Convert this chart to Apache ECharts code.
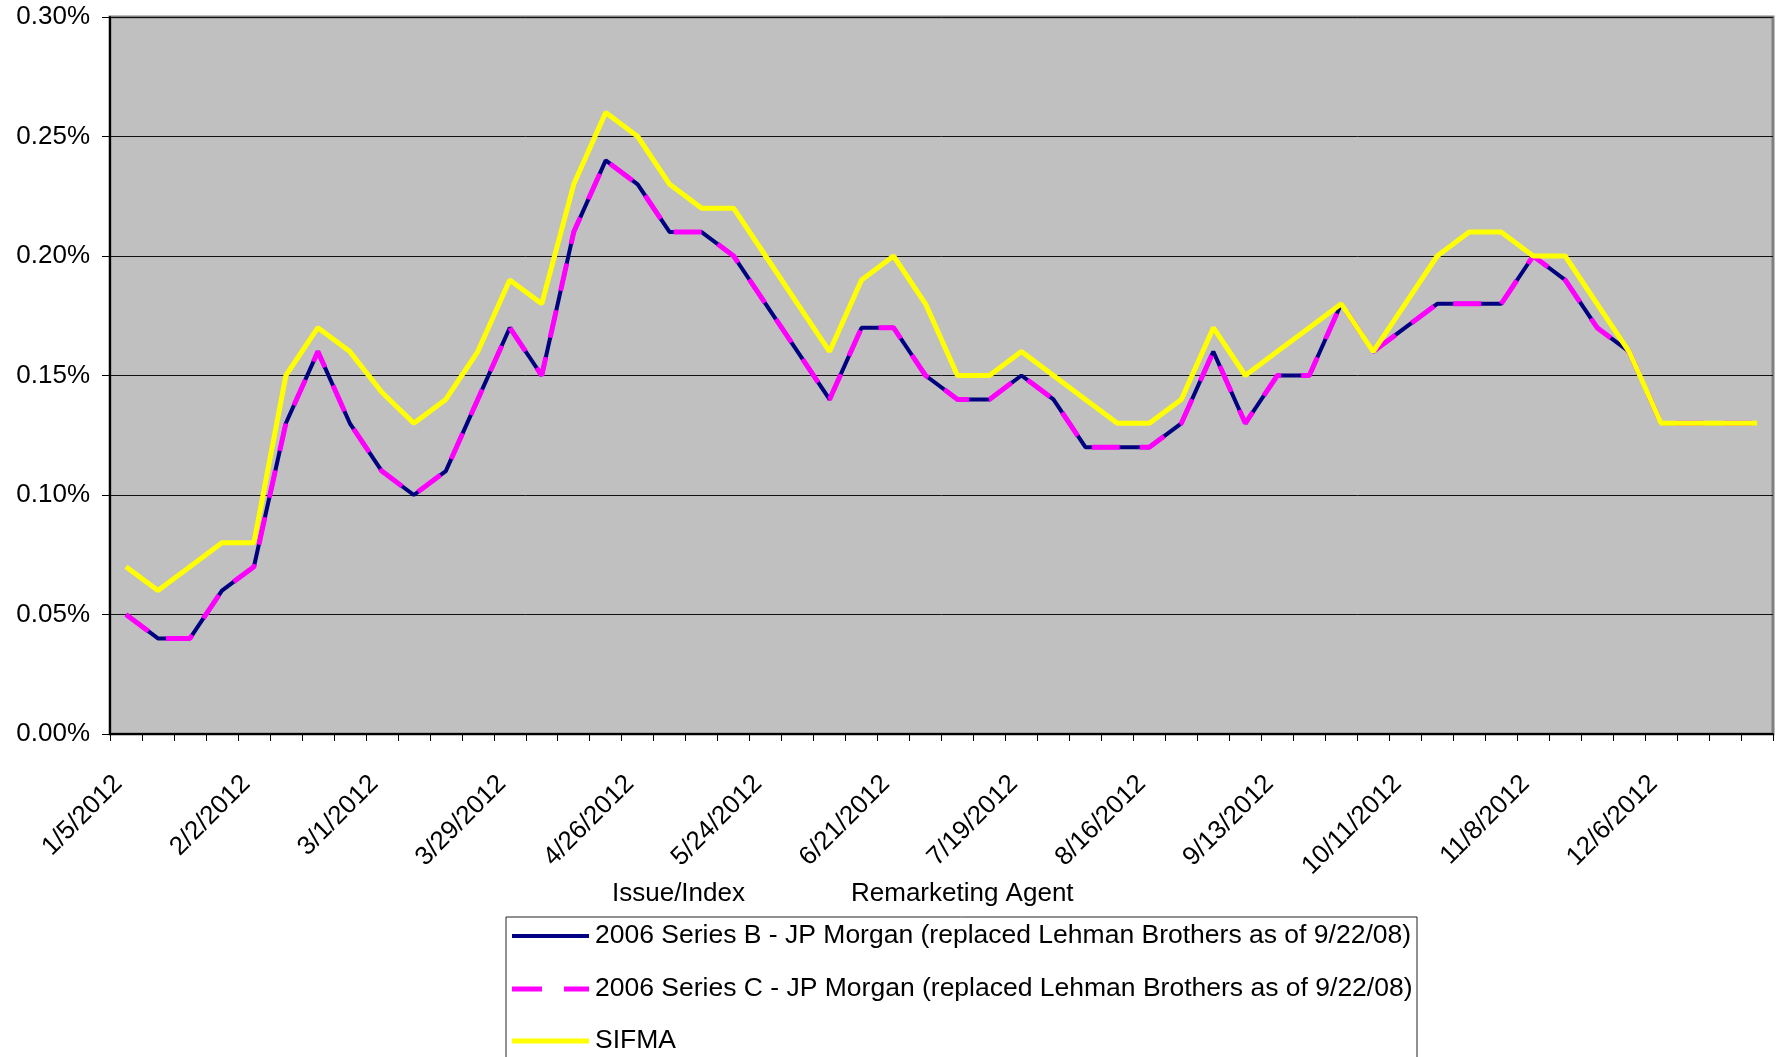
<!DOCTYPE html>
<html>
<head>
<meta charset="utf-8">
<script src="https://cdn.jsdelivr.net/npm/echarts@6/dist/echarts.min.js"></script>
<style>
html,body{margin:0;padding:0;background:#fff;}
#c{width:1776px;height:1057px;}
</style>
</head>
<body>
<div id="c"></div>
<script>
const categories = [
 '1/5/2012','1/12/2012','1/19/2012','1/26/2012','2/2/2012','2/9/2012','2/16/2012','2/23/2012',
 '3/1/2012','3/8/2012','3/15/2012','3/22/2012','3/29/2012','4/5/2012','4/12/2012','4/19/2012',
 '4/26/2012','5/3/2012','5/10/2012','5/17/2012','5/24/2012','5/31/2012','6/7/2012','6/14/2012',
 '6/21/2012','6/28/2012','7/5/2012','7/12/2012','7/19/2012','7/26/2012','8/2/2012','8/9/2012',
 '8/16/2012','8/23/2012','8/30/2012','9/6/2012','9/13/2012','9/20/2012','9/27/2012','10/4/2012',
 '10/11/2012','10/18/2012','10/25/2012','11/1/2012','11/8/2012','11/15/2012','11/22/2012','11/29/2012',
 '12/6/2012','12/13/2012','12/20/2012','12/27/2012'
];
const seriesB = [
 0.05,0.04,0.04,0.06,0.07,0.13,0.16,0.13,
 0.11,0.10,0.11,0.14,0.17,0.15,0.21,0.24,
 0.23,0.21,0.21,0.20,0.18,0.16,0.14,0.17,
 0.17,0.15,0.14,0.14,0.15,0.14,0.12,0.12,
 0.12,0.13,0.16,0.13,0.15,0.15,0.18,0.16,
 0.17,0.18,0.18,0.18,0.20,0.19,0.17,0.16,
 0.13,0.13,0.13,0.13
];
const seriesC = [
 0.05,0.04,0.04,0.06,0.07,0.13,0.16,0.13,
 0.11,0.10,0.11,0.14,0.17,0.15,0.21,0.24,
 0.23,0.21,0.21,0.20,0.18,0.16,0.14,0.17,
 0.17,0.15,0.14,0.14,0.15,0.14,0.12,0.12,
 0.12,0.13,0.16,0.13,0.15,0.15,0.18,0.16,
 0.17,0.18,0.18,0.18,0.20,0.19,0.17,0.16,
 0.13,0.13,0.13,0.13
];
const sifma = [
 0.07,0.06,0.07,0.08,0.08,0.15,0.17,0.16,
 0.143,0.13,0.14,0.16,0.19,0.18,0.23,0.26,
 0.25,0.23,0.22,0.22,0.20,0.18,0.16,0.19,
 0.20,0.18,0.15,0.15,0.16,0.15,0.14,0.13,
 0.13,0.14,0.17,0.15,0.16,0.17,0.18,0.16,
 0.18,0.20,0.21,0.21,0.20,0.20,0.18,0.16,
 0.13,0.13,0.13,0.13
];
const names = [
 '2006 Series B - JP Morgan (replaced Lehman Brothers as of 9/22/08)',
 '2006 Series C - JP Morgan (replaced Lehman Brothers as of 9/22/08)',
 'SIFMA'
];
const headers = ['Issue/Index', 'Remarketing Agent'];

const FONT = "'Liberation Sans', Arial, sans-serif";
const colors = ['#000080', '#FF00FF', '#FFFF00'];

// legend drawn as graphic (box partly outside the picture, as in the reference)
const legendLeft = 506, legendTop = 917, rowY = [936, 989, 1041];
const legendGraphic = [
  {type: 'rect', shape: {x: legendLeft, y: legendTop, width: 911, height: 200},
   style: {fill: '#fff', stroke: '#222', lineWidth: 1}, z: 10}
];
names.forEach((n, i) => {
  legendGraphic.push({type: 'line', shape: {x1: 512, y1: rowY[i], x2: 589, y2: rowY[i]},
    style: {stroke: colors[i], lineWidth: i === 0 ? 4 : 5, lineDash: i === 1 ? [30, 22] : null}, z: 11});
  legendGraphic.push({type: 'text', x: 595, y: rowY[i],
    style: {text: n, font: "26.5px " + FONT, fill: '#000', verticalAlign: 'middle', textAlign: 'left'}, z: 11});
});

const chart = echarts.init(document.getElementById('c'), null, {renderer: 'canvas'});
chart.setOption({
  backgroundColor: '#ffffff',
  animation: false,
  textStyle: {fontFamily: FONT},
  grid: {
    left: 110, right: 3, top: 17, bottom: 323,
    show: true, backgroundColor: '#C0C0C0', borderColor: '#808080', borderWidth: 3
  },
  xAxis: {
    type: 'category',
    data: categories,
    boundaryGap: true,
    axisLine: {show: true, lineStyle: {color: '#000', width: 2}},
    axisTick: {show: true, interval: 0, length: 7, lineStyle: {color: '#000', width: 1}},
    axisLabel: {interval: 3, rotate: 45, fontSize: 26, color: '#000', fontFamily: FONT,
      margin: 38, padding: [0, 11, 0, 0]},
    splitLine: {show: false}
  },
  yAxis: {
    type: 'value',
    min: 0, max: 0.30, interval: 0.05,
    axisLine: {show: true, lineStyle: {color: '#000', width: 2}},
    axisTick: {show: true, length: 8, lineStyle: {color: '#000', width: 1}},
    axisLabel: {fontSize: 26, color: '#000', fontFamily: FONT, margin: 20,
      formatter: v => v.toFixed(2) + '%'},
    splitLine: {show: true, lineStyle: {color: '#111', width: 1}}
  },
  graphic: [
    {type: 'text', left: 612, top: 881, style: {text: headers[0], font: "26px " + FONT, fill: '#000'}},
    {type: 'text', left: 851, top: 881, style: {text: headers[1], font: "26px " + FONT, fill: '#000'}}
  ].concat(legendGraphic),
  series: [
    {name: names[0], type: 'line', data: seriesB, symbol: 'none',
      lineStyle: {color: colors[0], width: 4}, itemStyle: {color: colors[0]}, z: 2},
    {name: names[1], type: 'line', data: seriesC, symbol: 'none',
      lineStyle: {color: colors[1], width: 5, type: [28, 20]}, itemStyle: {color: colors[1]}, z: 3},
    {name: names[2], type: 'line', data: sifma, symbol: 'none',
      lineStyle: {color: colors[2], width: 5}, itemStyle: {color: colors[2]}, z: 4}
  ]
});
</script>
</body>
</html>
